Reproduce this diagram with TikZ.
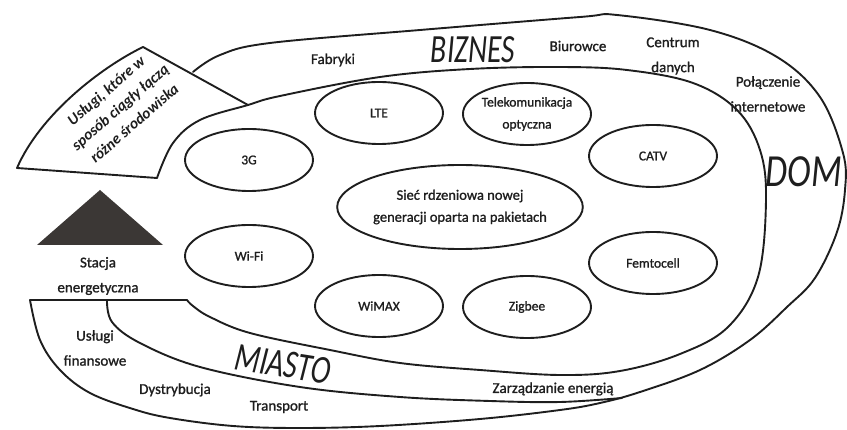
\documentclass[tikz,border=0pt]{standalone}
\usepackage{fontspec}
\setmainfont{Carlito}
\newfontfamily\darkfont{Carlito}[FakeBold=1.2]
\usetikzlibrary{shapes.geometric}
\definecolor{ink}{HTML}{1E1E1E}
\definecolor{tower}{HTML}{3B3735}
\newcommand\narrowzone[1]{\scalebox{0.74}[1]{#1}}
\begin{document}
\begin{tikzpicture}[x=1pt,y=-1pt,
  band/.style={draw=ink,line width=1.9pt,line join=round,line cap=round},
  tech/.style={ellipse,draw=ink,line width=1.9pt,minimum width=128pt,minimum height=62pt,
    inner sep=0pt,font=\darkfont\fontsize{13.5}{22}\selectfont,text=ink,align=center},
  lbl/.style={font=\darkfont\fontsize{15}{25}\selectfont,text=ink,align=center,inner sep=0pt},
  zone/.style={font=\fontsize{40}{40}\selectfont\itshape,text=ink,inner sep=0pt}]
\useasboundingbox (0,0) rectangle (847,430);

% inner boundary: BIZNES band inside edge, around to the MIASTO band
\draw[band] plot[smooth,tension=0.6] coordinates {(157,178) (173,143) (200,120) (248,105)
  (280,96) (380,77) (470,69) (560,67) (627,70) (693,83) (737,110) (760,150) (766,200)
  (758,277) (728,327) (680,354) (620,371) (560,375) (480,370) (400,363) (330,350)
  (250,333) (210,317) (193,306) (187,300)} -- (30,300);

% outer boundary
\draw[band] plot[smooth,tension=0.6] coordinates {(193,72) (220,55) (270,43) (420,30)
  (580,17) (617,15) (710,30) (777,57) (820,97) (843,153) (845,190) (837,232) (815,278)
  (787,307) (750,340) (700,370) (640,392) (600,403) (560,410) (480,419) (380,426)
  (300,428) (233,426) (170,418) (133,409) (90,393) (60,370) (40,340) (30,300)};

% middle line of the MIASTO band
\draw[band] plot[smooth,tension=0.6] coordinates {(107,300) (112,322) (140,343)
  (200,367) (300,387) (400,397) (490,401) (560,402) (622,398)};

% curved arrow
\draw[band] (248,105) -- (143,47) .. controls (100,68) and (40,115) .. (17,168) -- (157,178);
\node[rotate=41,font=\fontsize{15.5}{21.5}\selectfont\bfseries\itshape,text=ink,align=center,inner sep=0pt]
  (services) at (120,107) {Usługi, które w\\sposób ciągły łączą\\różne środowiska};

% power station
\fill[tower] (37,245) -- (100,190) -- (163,245) -- cycle;
\node[lbl] (station) at (98,276) {Stacja\\energetyczna};

% technologies
\node[tech] (g3) at (249,160) {3G};
\node[tech] (lte) at (379,113) {LTE};
\node[tech] (opt) at (527,114) {Telekomunikacja\\optyczna};
\node[tech] (catv) at (653,156) {CATV};
\node[tech,minimum width=186pt,minimum height=84pt,font=\darkfont\fontsize{14.5}{22}\selectfont] (core) at (460,207)
  {Sieć rdzeniowa nowej\\generacji oparta na pakietach};
\node[tech] (wifi) at (249,256) {Wi-Fi};
\node[tech] (wimax) at (379,306) {WiMAX};
\node[tech] (zigbee) at (527,307) {Zigbee};
\node[tech] (femto) at (653,263) {Femtocell};

% zone labels
\node[zone] (biz) at (473,50) {\narrowzone{BIZNES}};
\node[zone,font=\fontsize{46}{46}\selectfont\itshape] (dom) at (804,172) {\scalebox{0.78}[1]{DOM}};
\node[zone,rotate=-9] (city) at (283,364) {\narrowzone{MIASTO}};

% items in the bands
\node[lbl] (fab) at (333,60) {Fabryki};
\node[lbl] (office) at (578,46) {Biurowce};
\node[lbl] (dc) at (673,56) {Centrum\\danych};
\node[lbl] (net) at (768,94) {Połączenie\\internetowe};
\node[lbl] (fin) at (95,348) {Usługi\\finansowe};
\node[lbl] (dist) at (175,390) {Dystrybucja};
\node[lbl] (trans) at (279,407) {Transport};
\node[lbl] (energy) at (553,389) {Zarządzanie energią};
\end{tikzpicture}
\end{document}
